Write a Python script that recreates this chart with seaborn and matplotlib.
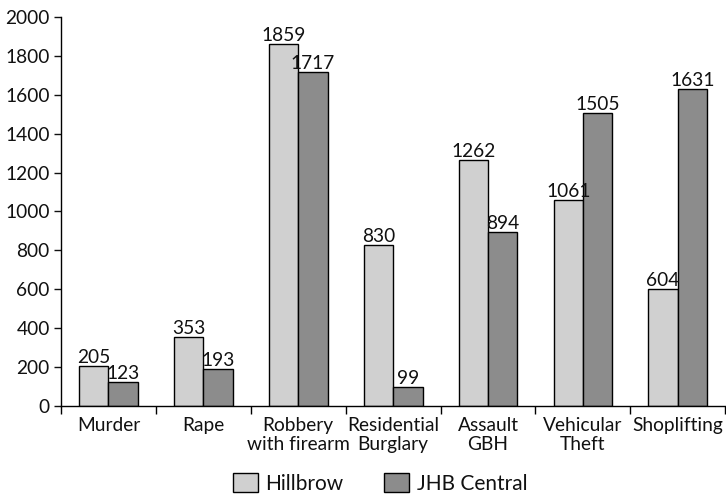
import matplotlib
matplotlib.use("Agg")
import matplotlib.pyplot as plt
import seaborn as sns
import pandas as pd
import numpy as np
from matplotlib.ticker import FixedLocator

categories = ["Murder", "Rape", "Robbery\nwith firearm", "Residential\nBurglary",
              "Assault\nGBH", "Vehicular\nTheft", "Shoplifting"]
hillbrow = [205, 353, 1859, 830, 1262, 1061, 604]
jhb_central = [123, 193, 1717, 99, 894, 1505, 1631]
series_names = ["Hillbrow", "JHB Central"]

df = pd.DataFrame({
    "Category": categories * 2,
    "Value": hillbrow + jhb_central,
    "Area": [series_names[0]] * len(categories) + [series_names[1]] * len(categories),
})

sns.set_style("ticks")
plt.rcParams["font.family"] = ["Lato", "DejaVu Sans"]

FS = 13.8
LFS = 15
fig = plt.figure(figsize=(7.26, 4.94), dpi=100)
ax = fig.add_axes([0.084, 0.178, 0.915, 0.788])

palette = {"Hillbrow": "#d0d0d0", "JHB Central": "#8c8c8c"}
sns.barplot(data=df, x="Category", y="Value", hue="Area", palette=palette,
            order=categories, hue_order=series_names, width=0.62,
            edgecolor="black", linewidth=1.0, saturation=1, ax=ax, errorbar=None)

for cont in ax.containers:
    ax.bar_label(cont, fmt="%d", padding=0, fontsize=FS, color="#111111")

ax.set_ylim(0, 2000)
ax.set_xlim(-0.5, len(categories) - 0.5)
ax.set_yticks(np.arange(0, 2001, 200))
ax.tick_params(axis="y", labelsize=FS, length=5, width=1, colors="#111111", pad=3)
ax.tick_params(axis="x", which="major", length=0, labelsize=FS, pad=8, colors="#111111")
ax.xaxis.set_minor_locator(FixedLocator(np.arange(-0.5, len(categories), 1.0)))
ax.tick_params(axis="x", which="minor", length=6, width=1, color="black")
for lbl in ax.get_xticklabels():
    lbl.set_linespacing(1.15)
ax.set_xlabel("")
ax.set_ylabel("")
sns.despine(ax=ax, top=True, right=True)
for s in ["left", "bottom"]:
    ax.spines[s].set_linewidth(1.0)
    ax.spines[s].set_color("black")

leg = ax.legend(loc="center", bbox_to_anchor=(0.48, -0.198), ncol=2, frameon=False,
                fontsize=LFS, handlelength=1.2, handleheight=1.06, columnspacing=2.0,
                handletextpad=0.34, borderpad=0, borderaxespad=0)
for t in leg.get_texts():
    t.set_color("#111111")

fig.savefig("out.png", dpi=100)
